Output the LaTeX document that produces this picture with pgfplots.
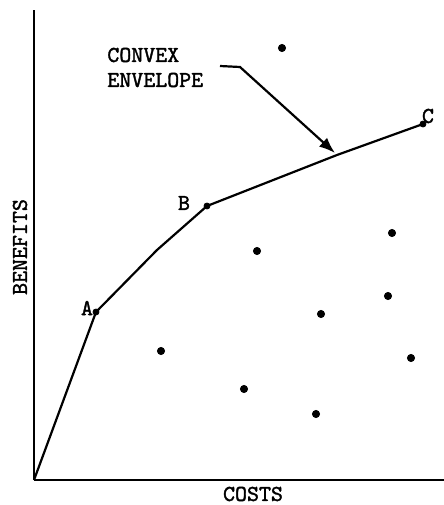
\documentclass[border=0pt]{standalone}
\usepackage{fontspec}
\newfontfamily\tw{lmmono10-regular.otf}[AutoFakeBold=1.6]
\usepackage{pgfplots}
\pgfplotsset{compat=1.18}
\usetikzlibrary{arrows.meta}
\begin{document}
\begin{tikzpicture}
\begin{axis}[
  x=0.5pt, y=0.5pt,
  xmin=0, xmax=410, ymin=0, ymax=470,
  axis lines=left,
  axis line style={line width=1pt, -},
  xtick=\empty, ytick=\empty,
  clip=false,
  font=\tw\bfseries\fontsize{11.4}{13}\selectfont,
]
% convex envelope
\addplot[black, line width=1.1pt, mark=none] coordinates {
  (0,0) (62,168) (123,230) (173,274) (303,325) (389,356)
};
% envelope vertices
\addplot[black, only marks, mark=*, mark size=1.5pt] coordinates {
  (62,168) (173,274) (389,356)
};
% other projects
\addplot[black, only marks, mark=*, mark size=1.8pt] coordinates {
  (248,432) (223,229) (358,247) (354,184) (287,166)
  (127,129) (377,122) (210,91) (282,66)
};
% arrow
\addplot[black, line width=1.1pt, mark=none, -{Latex[length=8pt,width=6pt]}] coordinates {
  (186,414) (206,413) (301,327)
};
\node[anchor=west, inner sep=0pt] at (axis cs:73,425) {CONVEX};
\node[anchor=west, inner sep=0pt] at (axis cs:73,400) {ENVELOPE};
\node[inner sep=0pt] at (axis cs:53,172) {A};
\node[inner sep=0pt] at (axis cs:150,277) {B};
\node[inner sep=0pt] at (axis cs:394,364) {C};
\node[inner sep=0pt, rotate=90] at (axis cs:-14,233) {BENEFITS};
\node[inner sep=0pt] at (axis cs:219,-14) {COSTS};
\coordinate (tl) at (axis cs:-34,480);
\coordinate (br) at (axis cs:410,-25);
\end{axis}
\pgfresetboundingbox
\useasboundingbox (tl) rectangle (br);
\end{tikzpicture}
\end{document}
